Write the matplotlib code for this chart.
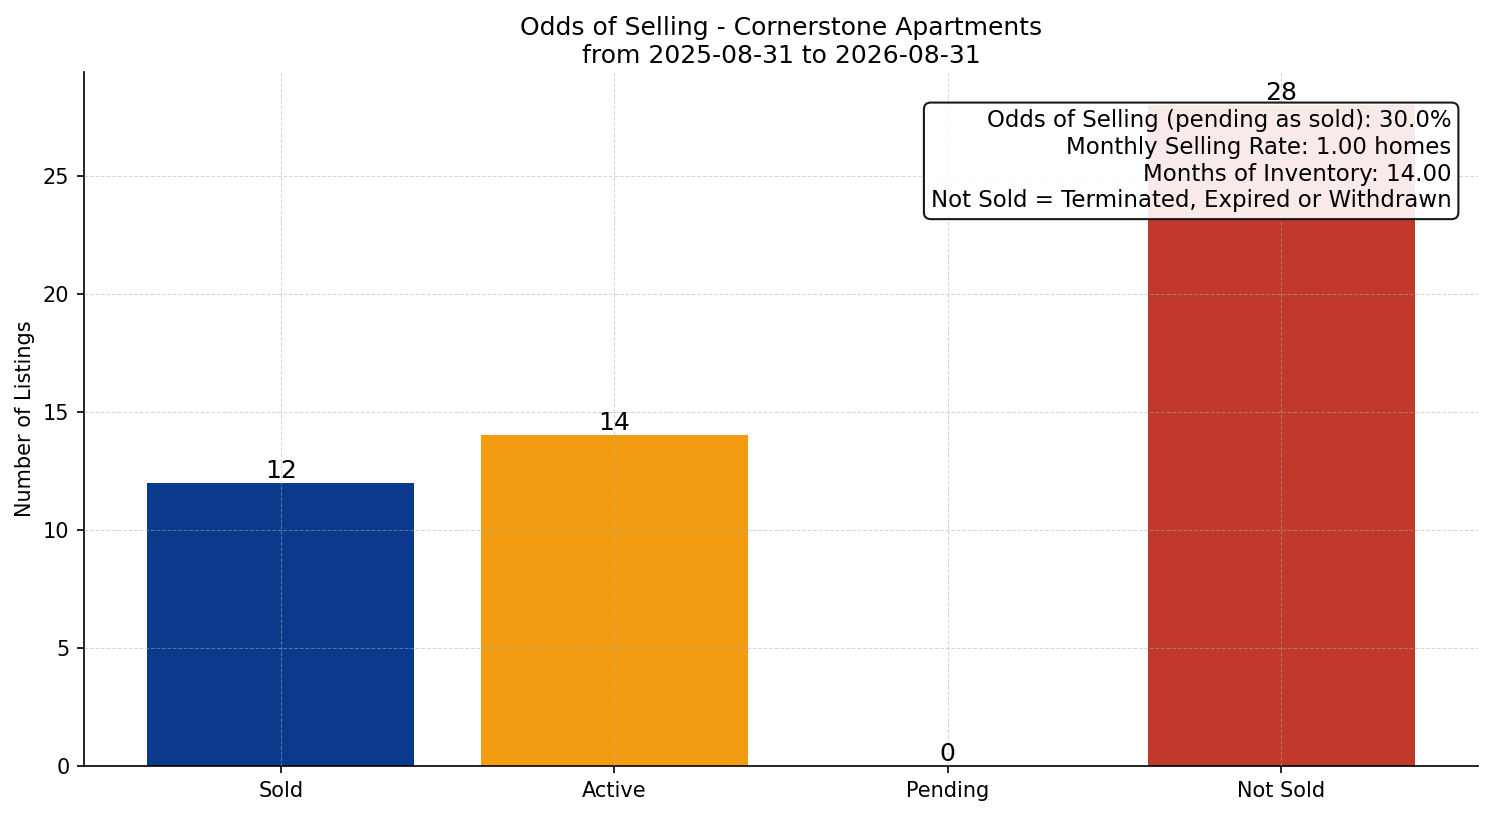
import numpy as np
import matplotlib
matplotlib.use("Agg")
import matplotlib.pyplot as plt

categories = ["Sold", "Active", "Pending", "Not Sold"]
counts = [12, 14, 0, 28]
bar_colors = ["#0B3A8D", "#F39C12", "#8E44AD", "#C0392B"]
info_lines = [
    "Odds of Selling (pending as sold): 30.0%",
    "Monthly Selling Rate: 1.00 homes",
    "Months of Inventory: 14.00",
    "Not Sold = Terminated, Expired or Withdrawn",
]

fig, ax = plt.subplots(figsize=(9.96, 5.44), dpi=150)
fig.subplots_adjust(left=0.0562, right=0.9893, top=0.9118, bottom=0.0613)
bars = ax.bar(categories, counts, color=bar_colors)

for b, v in zip(bars, counts):
    ax.text(b.get_x() + b.get_width() / 2, b.get_height(), str(v),
            ha="center", va="bottom", fontsize=12)

ax.set_title("Odds of Selling - Cornerstone Apartments\nfrom 2025-08-31 to 2026-08-31",
             fontsize=12, pad=4.5)
ax.set_ylabel("Number of Listings", fontsize=10)
ax.tick_params(labelsize=10)
ax.grid(True, linestyle="--", linewidth=0.5, alpha=0.5, zorder=3)
ax.set_axisbelow(False)
ax.spines["top"].set_visible(False)
ax.spines["right"].set_visible(False)

ax.text(0.981, 0.946, "\n".join(info_lines), transform=ax.transAxes,
        ha="right", va="top", fontsize=11,
        bbox=dict(boxstyle="round,pad=0.3", facecolor="white", edgecolor="black", alpha=0.9))

plt.savefig("out.png", dpi=150)
